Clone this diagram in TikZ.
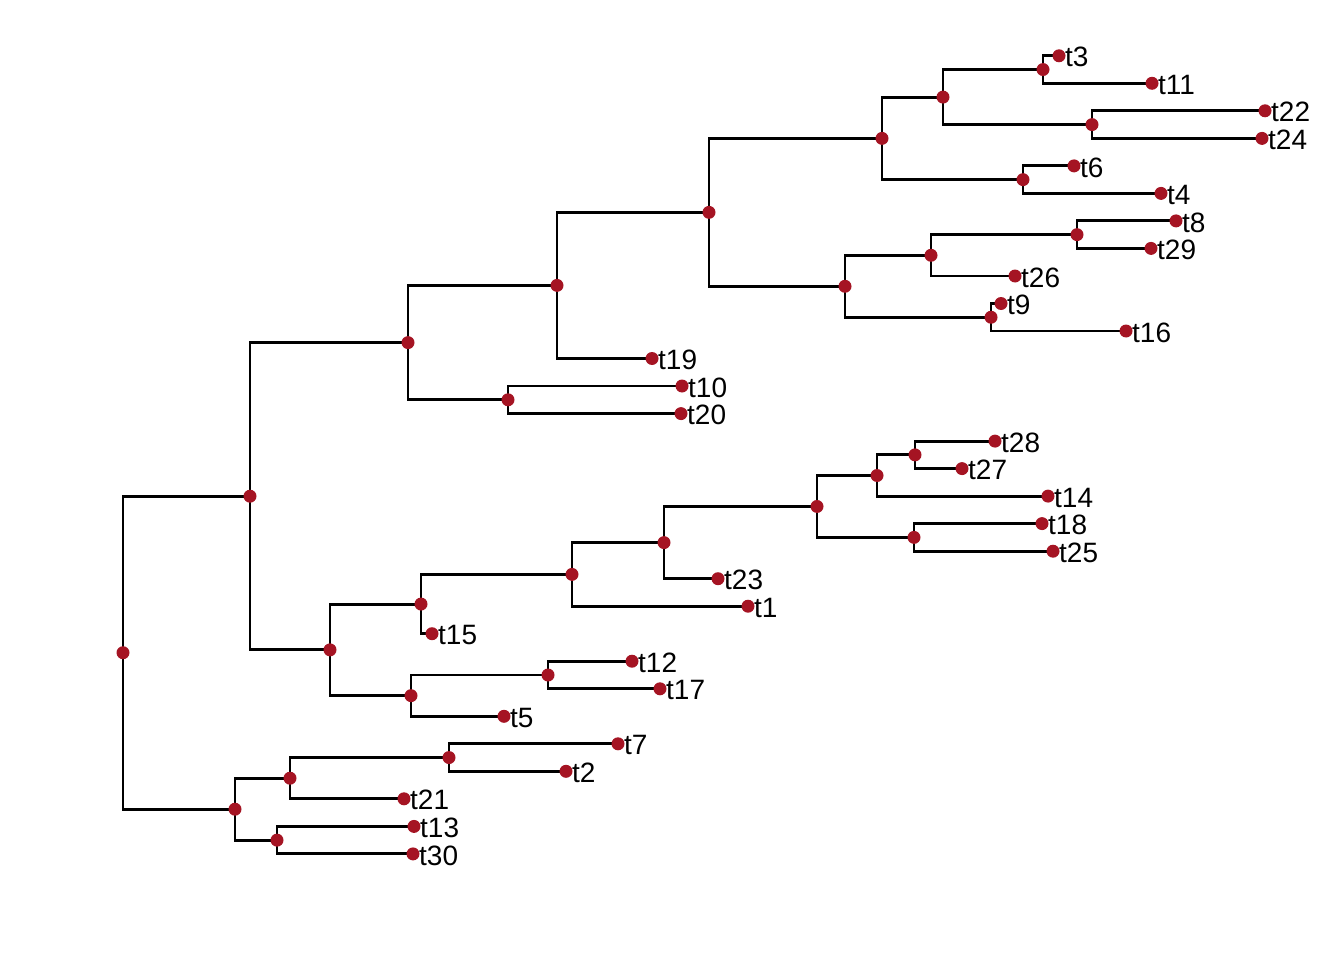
\documentclass[tikz,border=0pt]{standalone}
\usepackage{fontspec}
\setmainfont{Liberation Sans}
\definecolor{dotc}{RGB}{165,20,35}
\begin{document}
\begin{tikzpicture}[x=1pt,y=-1pt,
  edge/.style={line width=2.9pt,black,line join=miter},
  dot/.style={fill=dotc},
  lab/.style={anchor=west,inner sep=0pt,font=\fontsize{28}{33}\selectfont}]
\useasboundingbox (0,0) rectangle (1344,960);
% tips
\coordinate (t3) at (1059,55.8);
\coordinate (t11) at (1152,83.3);
\coordinate (t22) at (1265,110.8);
\coordinate (t24) at (1262,138.4);
\coordinate (t6) at (1074,165.9);
\coordinate (t4) at (1161,193.4);
\coordinate (t8) at (1176,220.9);
\coordinate (t29) at (1151,248.4);
\coordinate (t26) at (1015,276.0);
\coordinate (t9) at (1001,303.5);
\coordinate (t16) at (1126,331.0);
\coordinate (t19) at (652,358.5);
\coordinate (t10) at (682,386.0);
\coordinate (t20) at (681,413.6);
\coordinate (t28) at (995,441.1);
\coordinate (t27) at (962,468.6);
\coordinate (t14) at (1048,496.1);
\coordinate (t18) at (1042,523.6);
\coordinate (t25) at (1053,551.2);
\coordinate (t23) at (718,578.7);
\coordinate (t1) at (748,606.2);
\coordinate (t15) at (432,633.7);
\coordinate (t12) at (632,661.2);
\coordinate (t17) at (660,688.8);
\coordinate (t5) at (504,716.3);
\coordinate (t7) at (618,743.8);
\coordinate (t2) at (566,771.3);
\coordinate (t21) at (404,798.8);
\coordinate (t13) at (414,826.4);
\coordinate (t30) at (413,853.9);
% internal nodes
\coordinate (root) at (123,652.7);
\coordinate (A) at (250,496.2);
\coordinate (B) at (408,342.6);
\coordinate (C) at (557,285.4);
\coordinate (D) at (709,212.35);
\coordinate (E) at (882,138.4);
\coordinate (F) at (943,97.1);
\coordinate (G) at (1043,69.55);
\coordinate (H) at (1092,124.6);
\coordinate (I) at (1023,179.65);
\coordinate (J) at (845,286.3);
\coordinate (K) at (931,255.3);
\coordinate (L) at (1077,234.65);
\coordinate (M) at (991,317.25);
\coordinate (N) at (508,399.8);
\coordinate (O) at (330,649.85);
\coordinate (P) at (421,604.05);
\coordinate (Q) at (572,574.4);
\coordinate (R) at (664,542.6);
\coordinate (S) at (817,506.45);
\coordinate (T) at (877,475.5);
\coordinate (U) at (915,454.85);
\coordinate (V) at (914,537.4);
\coordinate (W) at (411,695.65);
\coordinate (X) at (548,675.0);
\coordinate (Y) at (235,809.2);
\coordinate (Z) at (290,778.2);
\coordinate (AA) at (449,757.55);
\coordinate (AB) at (277,840.15);
% edges
\foreach \p/\c in {root/A,root/Y,A/B,A/O,B/C,B/N,C/D,C/t19,D/E,D/J,E/F,E/I,F/G,F/H,
  G/t3,G/t11,H/t22,H/t24,I/t6,I/t4,J/K,J/M,K/L,K/t26,L/t8,L/t29,M/t9,M/t16,N/t10,N/t20,
  O/P,O/W,P/Q,P/t15,Q/R,Q/t1,R/S,R/t23,S/T,S/V,T/U,T/t14,U/t28,U/t27,V/t18,V/t25,
  W/X,W/t5,X/t12,X/t17,Y/Z,Y/AB,Z/AA,Z/t21,AA/t7,AA/t2,AB/t13,AB/t30}
  \draw[edge] (\p) |- (\c);
% dots
\foreach \n in {root,A,B,C,D,E,F,G,H,I,J,K,L,M,N,O,P,Q,R,S,T,U,V,W,X,Y,Z,AA,AB,
  t3,t11,t22,t24,t6,t4,t8,t29,t26,t9,t16,t19,t10,t20,t28,t27,t14,t18,t25,t23,t1,t15,t12,t17,t5,t7,t2,t21,t13,t30}
  \fill[dot] (\n) circle (6.5pt);
% labels
\foreach \n in {t3,t11,t22,t24,t6,t4,t8,t29,t26,t9,t16,t19,t10,t20,t28,t27,t14,t18,t25,t23,t1,t15,t12,t17,t5,t7,t2,t21,t13,t30}
  \node[lab] (l\n) at ([xshift=6pt,yshift=-1.5pt]\n) {\n};
\end{tikzpicture}
\end{document}
